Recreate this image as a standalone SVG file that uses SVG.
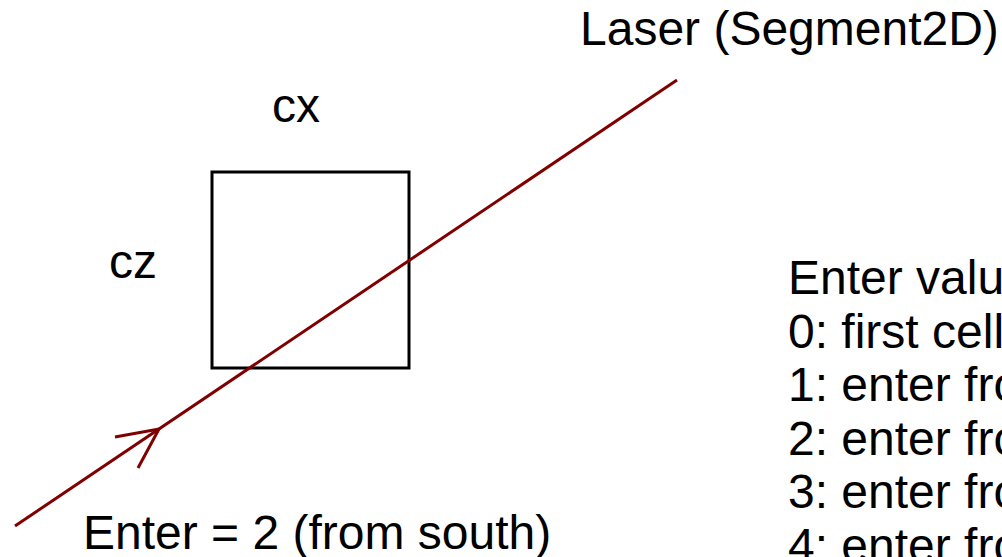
<svg xmlns="http://www.w3.org/2000/svg" width="1002" height="557" viewBox="0 0 1002 557">
<style>
text{font-family:"Liberation Sans",Arial,sans-serif;font-size:48px;fill:#000}
.laser{stroke:#800000;stroke-width:3;fill:none;stroke-linecap:butt}
</style>
<rect width="1002" height="557" fill="#fff"/>
<g id="cell">
<rect x="212" y="172" width="197" height="196" fill="none" stroke="#000" stroke-width="3"/>
<text x="272" y="122">cx</text>
<text x="109" y="278">cz</text>
</g>
<g id="connectors">
<line class="laser" x1="15" y1="526" x2="677" y2="80"/>
<polyline class="laser" points="115,437 159,429 138,468"/>
</g>
<g id="laser-label"><text x="580" y="45">Laser (Segment2D)</text></g>
<g id="enter-label"><text x="83" y="549">Enter = 2 (from south)</text></g>
<g id="legend">
<text x="788" y="294">Enter values:</text>
<text x="788" y="347.5">0: first cell</text>
<text x="788" y="401">1: enter from north</text>
<text x="788" y="454.5">2: enter from south</text>
<text x="788" y="508">3: enter from west</text>
<text x="788" y="561.5">4: enter from east</text>
</g>
</svg>
